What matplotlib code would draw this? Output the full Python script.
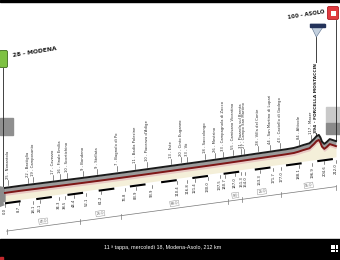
import numpy as np
import matplotlib.pyplot as plt
from matplotlib.patches import Polygon, Rectangle, FancyBboxPatch

# altimetria (km, quota in m)
prof_km = [0, 10, 20, 30, 40, 50, 60, 70, 80, 90, 100, 110, 120, 130, 140, 150, 160,
           170, 180, 185, 188, 191, 195, 198, 199.5, 201, 202, 203, 204.5, 206, 208, 210, 212]
prof_alt = [28, 30, 24, 20, 16, 12, 10, 9, 10, 12, 14, 16, 18, 20, 24, 30, 38,
            44, 52, 60, 84, 117, 150, 280, 360, 394, 300, 150, 60, 110, 200, 150, 100]

# localita' attraversate
town_km = [2, 15, 18, 31, 35, 40, 50, 59, 72, 83, 91, 106, 113, 116.5, 128, 134.5,
           139.5, 146, 151, 153, 162, 170, 176, 188, 196]
town_names = ["25 - Nonantola", "22 - Bastiglia", "19 - Camposanto", "17 - Cavezzo",
              "16 - Finale Emilia", "10 - Scortichino", "9 - Bondeno", "9 - Stellata",
              "7 - Bagnolo di Po", "11 - Badia Polesine", "10 - Piacenza d'Adige",
              "13 - Este", "20 - Cinto Euganeo", "33 - Vò", "18 - Saccolongo",
              "26 - Mestrino", "33 - Campagnola di Zocco", "55 - Camisano Vicentino",
              "31 - Piazzola sul Brenta", "27 - Campo San Martino", "28 - Villa del Conte",
              "44 - San Martino di Lupari", "43 - Castello di Godego", "84 - Altivole",
              "117 - Maser"]

# chilometri progressivi sotto il profilo
km_marks = [0.0, 8.7, 18.1, 22.1, 34.3, 38.5, 44.4, 52.1, 61.2, 76.8, 83.9, 93.9, 110.4,
            116.8, 121.4, 130.0, 137.5, 140.7, 147.0, 151.3, 154.0, 163.3, 171.7, 177.0,
            188.1, 196.9, 204.6, 212.0]

# tratti (parentesi in basso)
seg_km = [1, 48, 74, 143, 152, 177, 212]

gpm_km = 201
gpm_name = "394 - FORCELLA MOSTACCIN"
title = "11 ª tappa, mercoledì 18, Modena-Asolo, 212 km"


def px(km):
    return 5 + np.asarray(km, dtype=float) * 331 / 212


def base_y(km):
    return 204 - 0.135 * px(km)


def top_y(km, alt):
    return base_y(km) - 14.6 - 0.029 * np.asarray(alt, dtype=float)


fig = plt.figure(figsize=(3.4, 2.6), dpi=100)
ax = fig.add_axes([0, 0, 1, 1])
ax.set_xlim(0, 340)
ax.set_ylim(260, 0)
ax.axis('off')

km = np.array(prof_km)
alt = np.array(prof_alt)
x = px(km)
yt = top_y(km, alt)
yb = base_y(km)

# corpo del profilo
ax.fill_between(x, yt + 5, yb, color='#f4efd9', lw=0, zorder=2)
ax.fill_between(x, yt + 5, yt + 7.5, color='#e8c9c4', lw=0, zorder=2)
ax.fill_between(x, yt, yt + 5, color='#9b9b9b', lw=0, zorder=3)
ax.plot(x, yt + 5, color='#7e1616', lw=1.4, zorder=4)
ax.plot(x, yt, color='#1a1a1a', lw=1.4, zorder=5)
# testata sinistra
ax.add_patch(Polygon([[0, yt[0] - 1], [x[0], yt[0]], [x[0], yb[0] + 1], [0, yb[0] + 3]],
                     closed=True, color='#8c8c8c', zorder=3))

# striscia chilometrica
ax.plot(x, yb, color='white', lw=1.8, zorder=4)
for k in range(0, 212, 20):
    kk = np.array([k, min(k + 10, 212)])
    ax.plot(px(kk), base_y(kk), color='black', lw=1.5, zorder=5, solid_capstyle='butt')

# localita'
for k, name in zip(town_km, town_names):
    a = np.interp(k, prof_km, prof_alt)
    y0 = top_y(k, a) - 2
    ax.plot([px(k), px(k)], [y0, y0 - 5], color='#333333', lw=0.4, zorder=5)
    ax.text(px(k), y0 - 6, name, rotation=90, ha='center', va='bottom',
            fontsize=2.7, color='#2a2a2a', zorder=6)

# km progressivi
for k in km_marks:
    y0 = base_y(k)
    ax.plot([px(k), px(k)], [y0 + 1, y0 + 4], color='#333333', lw=0.4, zorder=5)
    ax.text(px(k), y0 + 5, f"{k:.1f}", rotation=90, ha='center', va='top',
            fontsize=2.7, color='#222222', zorder=6)

# parentesi dei tratti
sx = px(seg_km)
sy = base_y(seg_km) + 28
ax.plot(sx, sy, color='#777777', lw=0.5, zorder=4)
for i in range(len(seg_km)):
    ax.plot([sx[i], sx[i]], [sy[i] - 2, sy[i] + 3], color='#777777', lw=0.5, zorder=4)
for i in range(len(seg_km) - 1):
    mk = (seg_km[i] + seg_km[i + 1]) / 2
    ax.text(px(mk), base_y(mk) + 23, f"{seg_km[i + 1] - seg_km[i]:.1f}", rotation=7.7,
            ha='center', va='center', fontsize=2.4, color='#555555',
            bbox=dict(boxstyle='square,pad=0.2', fc='white', ec='#888888', lw=0.3), zorder=6)

# partenza
ax.add_patch(Rectangle((0, 118), 13, 17, color='#8f8f8f', zorder=1))
ax.plot([3, 3], [68, top_y(0, prof_alt[0])], color='#222222', lw=0.6, zorder=1)
ax.add_patch(FancyBboxPatch((0, 51), 7, 16, boxstyle='round,pad=0.5,rounding_size=1.5',
                            fc='#7dc142', ec='#3d6b1e', lw=0.6, zorder=6))
ax.text(12, 58, "28 - MODENA", rotation=9, ha='left', va='bottom', fontsize=4.3,
        fontweight='bold', color='#1a1a1a')

# arrivo
xf = px(prof_km[-1])
ax.add_patch(Rectangle((326, 107), 14, 16, color='#c9c9c9', zorder=1))
ax.add_patch(Rectangle((326, 123), 14, 11, color='#8a8a8a', zorder=1))
ax.plot([xf, xf], [20, top_y(prof_km[-1], prof_alt[-1])], color='#222222', lw=0.6, zorder=1)
ax.add_patch(FancyBboxPatch((328, 7), 10, 12, boxstyle='round,pad=0.5,rounding_size=1.5',
                            fc='#e03a3e', ec='#b01c22', lw=0.6, zorder=6))
ax.add_patch(Rectangle((330.5, 11), 5, 5, fc='white', ec='none', zorder=7))
ax.text(325, 20, "100 - ASOLO", rotation=9, ha='right', va='bottom', fontsize=3.9,
        fontweight='bold', color='#1a1a1a')

# GPM
xg = px(gpm_km)
ax.add_patch(Polygon([[310, 24], [325, 24], [xg - 2.5, 37]], closed=True,
                     fc='#c3d0de', ec='#5a6f8c', lw=0.4, zorder=6))
ax.add_patch(Rectangle((310, 23.5), 15, 3, color='#23325a', zorder=7))
ax.plot([xg - 2.5, xg - 2.5], [37, top_y(gpm_km, 394)], color='#222222', lw=0.6, zorder=1)
ax.text(xg - 2.5, 98, gpm_name, rotation=90, ha='center', va='center', fontsize=3.2,
        fontweight='bold', color='#1a1a1a', zorder=6,
        bbox=dict(boxstyle='square,pad=0.1', fc='white', ec='none'))

# bande nere
ax.add_patch(Rectangle((0, 0), 340, 2, color='black', zorder=8))
ax.add_patch(Rectangle((0, 239), 340, 21, color='black', zorder=8))
ax.add_patch(Rectangle((0, 257), 3, 3, color='#c0282d', zorder=9))
ax.text(163, 248, title, ha='center', va='center', fontsize=3.9, color='white',
        family=['Liberation Sans', 'DejaVu Sans'], zorder=9)
gx, gy = np.meshgrid([331.5, 334, 336.5], [245.5, 248, 250.5])
ax.scatter(gx.ravel(), gy.ravel(), s=0.6, marker='s', color='white', lw=0, zorder=9)

fig.savefig('out.png', dpi=100)
